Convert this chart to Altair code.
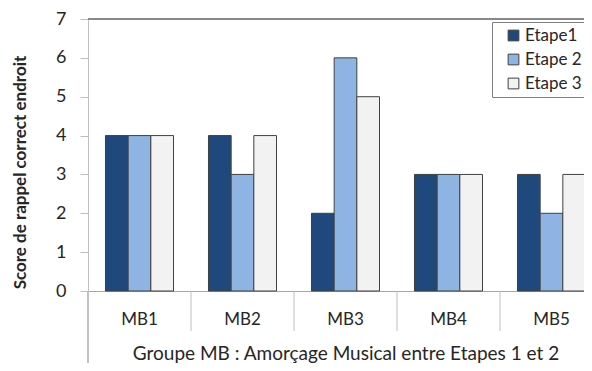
import altair as alt
import pandas as pd

categories = ["MB1", "MB2", "MB3", "MB4", "MB5"]
series = ["Etape1", "Etape 2", "Etape 3"]
etape1 = [4, 4, 2, 3, 3]
etape2 = [4, 3, 6, 3, 2]
etape3 = [4, 4, 5, 3, 3]
colors = ["#1F497D", "#8DB4E2", "#F2F2F2"]

rows = []
for s, vals in zip(series, [etape1, etape2, etape3]):
    for c, v in zip(categories, vals):
        rows.append({"groupe": c, "etape": s, "score": v})
df = pd.DataFrame(rows)
cat_df = pd.DataFrame({"groupe": categories})

FONT = "Lato"
BAND_RANGE = 515   # full width of the five categories (partly cut at right edge)
W, H = 496, 272     # visible plot area
STEP = BAND_RANGE / len(categories)

xscale = alt.Scale(domain=categories, range=[0, BAND_RANGE], paddingInner=0, paddingOuter=0)
yscale = alt.Scale(domain=[0, 7], nice=False)
yaxis = alt.Axis(title="Score de rappel correct endroit", values=list(range(8)),
                 grid=False, tickSize=8, tickColor="#bfbfbf", domainColor="#bfbfbf",
                 labelOverlap=False, labelFontSize=18, labelColor="#262626",
                 labelPadding=14,
                 titleFontSize=17, titleFontWeight="bold", titleColor="#262626",
                 titleAngle=270, titleX=-68, titleY=153, titleAlign="center",
                 titleBaseline="middle")

bars = alt.Chart(df).mark_bar(stroke="#404040", strokeWidth=1).encode(
    x=alt.X("groupe:N", sort=categories, scale=xscale,
            axis=alt.Axis(title="Groupe MB : Amorçage Musical entre Etapes 1 et 2",
                          ticks=False, tickSize=0, domainColor="#a6a6a6", domainWidth=1,
                          labelAngle=0, labelFontSize=17, labelColor="#262626",
                          labelAlign="center", labelBaseline="alphabetic", labelPadding=33,
                          titleFontSize=19, titleFontWeight="normal", titleColor="#262626",
                          titleX=BAND_RANGE / 2, titleY=68, titleBaseline="alphabetic",
                          titleAlign="center")),
    xOffset=alt.XOffset("etape:N", sort=series,
                        scale=alt.Scale(domain=series, paddingOuter=0.77, paddingInner=0)),
    y=alt.Y("score:Q", scale=yscale, axis=yaxis),
    color=alt.Color("etape:N", sort=series, scale=alt.Scale(domain=series, range=colors),
                    legend=alt.Legend(title=None, orient="none", legendX=404, legendY=3,
                                      strokeColor="#808080", fillColor="white", padding=5,
                                      symbolType="square", symbolSize=115,
                                      symbolStrokeColor="#404040", symbolStrokeWidth=1,
                                      symbolOffset=8, labelFontSize=17, labelColor="#262626",
                                      labelOffset=3, rowPadding=6)),
)

dividers = alt.Chart(cat_df).transform_filter(
    alt.datum.groupe != "MB1"
).mark_rule(color="#bfbfbf", strokeWidth=1, xOffset=-STEP / 2).encode(
    x=alt.X("groupe:N", sort=categories, scale=xscale),
    y=alt.value(H),
    y2=alt.value(H + 40),
)

top_border = alt.Chart(cat_df).mark_rule(color="#868686", strokeWidth=1.2).encode(
    y=alt.YDatum(7, scale=yscale, axis=yaxis),
)

left_line = alt.Chart(cat_df).mark_rule(color="#bfbfbf", strokeWidth=1).encode(
    x=alt.value(0), y=alt.value(H), y2=alt.value(H + 90),
)

chart = alt.layer(bars, top_border, left_line, dividers).properties(
    width=W, height=H,
    autosize=alt.AutoSizeParams(type="none"),
    padding={"left": 80, "top": 11, "right": 0, "bottom": 72},
).configure_view(stroke=None).configure(font=FONT, background="white")

chart.save("out.html", embed_options={"renderer": "svg", "actions": False})
